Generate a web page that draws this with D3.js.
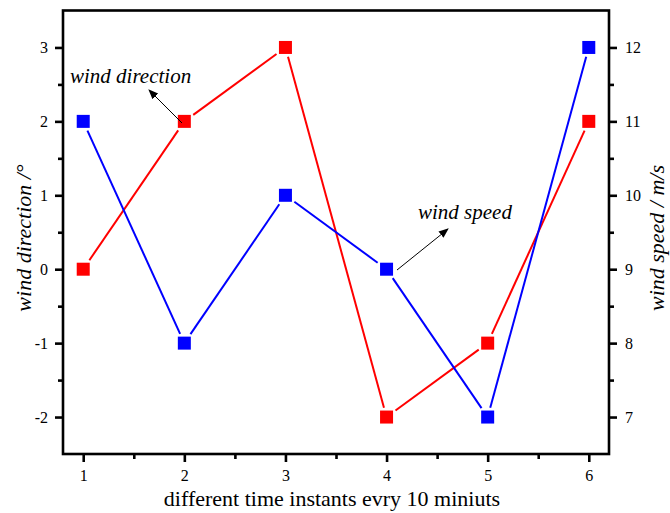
<!DOCTYPE html>
<html><head><meta charset="utf-8">
<script src="https://cdn.jsdelivr.net/npm/d3@7"></script>
<style>body{margin:0;background:#fff}svg{display:block;font-family:"Liberation Serif","Times New Roman",serif}
svg text{font-family:"Liberation Serif","Times New Roman",serif}</style>
</head><body><svg id="c" width="670" height="513"></svg>
<script>
const instants = [1, 2, 3, 4, 5, 6];
const windDirection = [0, 2, 3, -2, -1, 2];
const windSpeed = [11, 8, 10, 9, 7, 12];
const leftTicks = [-2, -1, 0, 1, 2, 3];
const rightTicks = [7, 8, 9, 10, 11, 12];
const xTicks = [1, 2, 3, 4, 5, 6];

const svg = d3.select("#c");
const L = 63, R = 609, T = 10.5, B = 454;
const x = d3.scaleLinear().domain([0.8, 6.2]).range([L, R]);
const yL = d3.scaleLinear().domain([-2.5, 3.5]).range([B, T]);
const yR = d3.scaleLinear().domain([6.5, 12.5]).range([B, T]);
const fmt = d => String(d);

const axW = 2.6;
function minorTicks(dom) {
  const out = [];
  for (let v = dom[0]; v <= dom[1] + 1e-9; v += 0.5) {
    if (Math.abs(v - Math.round(v)) > 1e-6) out.push(v);
  }
  return out;
}
const g = svg.append("g");
g.append("g").attr("transform", `translate(0,${B})`)
  .call(d3.axisBottom(x).tickValues(xTicks).tickSize(8).tickPadding(8).tickFormat(fmt));
g.append("g").attr("transform", `translate(0,${B})`)
  .call(d3.axisBottom(x).tickValues(minorTicks([1, 6])).tickSize(5).tickFormat(""));
g.append("g").attr("transform", `translate(${L},0)`)
  .call(d3.axisLeft(yL).tickValues(leftTicks).tickSize(8).tickPadding(7).tickFormat(fmt));
g.append("g").attr("transform", `translate(${L},0)`)
  .call(d3.axisLeft(yL).tickValues(minorTicks([-2, 3])).tickSize(5).tickFormat(""));
g.append("g").attr("transform", `translate(${R},0)`)
  .call(d3.axisRight(yR).tickValues(rightTicks).tickSize(8).tickPadding(8).tickFormat(fmt));
g.append("g").attr("transform", `translate(${R},0)`)
  .call(d3.axisRight(yR).tickValues(minorTicks([7, 12])).tickSize(5).tickFormat(""));

g.selectAll(".domain").remove();
g.selectAll("g").attr("font-family", null).attr("font-size", null);
g.selectAll(".tick line").attr("stroke", "#000").attr("stroke-width", axW);
g.selectAll(".tick text").style("font-size", "16px").attr("fill", "#000");

svg.append("rect").attr("x", L).attr("y", T).attr("width", R - L).attr("height", B - T)
  .attr("fill", "none").attr("stroke", "#000").attr("stroke-width", axW);

const ms = 13, gap = 3;
function drawSeries(vals, ys, color) {
  const pts = instants.map((d, i) => [x(d), ys(vals[i])]);
  const grp = svg.append("g");
  for (let i = 0; i < pts.length - 1; i++) {
    const [x1, y1] = pts[i], [x2, y2] = pts[i + 1];
    const dx = x2 - x1, dy = y2 - y1, len = Math.hypot(dx, dy);
    const ux = dx / len, uy = dy / len;
    const s = (ms / 2) / Math.max(Math.abs(ux), Math.abs(uy)) + gap;
    grp.append("line")
      .attr("x1", x1 + ux * s).attr("y1", y1 + uy * s)
      .attr("x2", x2 - ux * s).attr("y2", y2 - uy * s)
      .attr("stroke", color).attr("stroke-width", 2);
  }
  grp.selectAll("rect").data(pts).join("rect")
    .attr("x", d => d[0] - ms / 2).attr("y", d => d[1] - ms / 2)
    .attr("width", ms).attr("height", ms).attr("fill", color);
}
drawSeries(windDirection, yL, "#ff0000");
drawSeries(windSpeed, yR, "#0000ff");

svg.append("defs").append("marker").attr("id", "ah")
  .attr("viewBox", "0 0 10 10").attr("refX", 9).attr("refY", 5)
  .attr("markerWidth", 10).attr("markerHeight", 10).attr("markerUnits", "userSpaceOnUse")
  .attr("orient", "auto")
  .append("path").attr("d", "M0,1 L10,5 L0,9 Z").attr("fill", "#000");

svg.append("line").attr("x1", 182).attr("y1", 123).attr("x2", 149).attr("y2", 90)
  .attr("stroke", "#000").attr("stroke-width", 1).attr("marker-end", "url(#ah)");
svg.append("line").attr("x1", 397).attr("y1", 270).attr("x2", 448).attr("y2", 229)
  .attr("stroke", "#000").attr("stroke-width", 1).attr("marker-end", "url(#ah)");
svg.append("text").attr("x", 70).attr("y", 83).style("font-size", "21px").attr("font-style", "italic")
  .text("wind direction");
svg.append("text").attr("x", 418).attr("y", 219).style("font-size", "21px").attr("font-style", "italic")
  .text("wind speed");

svg.append("text").attr("x", (L + R) / 2 - 4).attr("y", 506).attr("text-anchor", "middle")
  .style("font-size", "22px").text("different time instants evry 10 miniuts");
svg.append("text").attr("transform", "translate(31,238) rotate(-90)").attr("text-anchor", "middle")
  .style("font-size", "22px").attr("font-style", "italic").text("wind direction /°");
svg.append("text").attr("transform", "translate(664,238) rotate(-90)").attr("text-anchor", "middle")
  .style("font-size", "22px").attr("font-style", "italic").text("wind speed / m/s");
</script></body></html>
